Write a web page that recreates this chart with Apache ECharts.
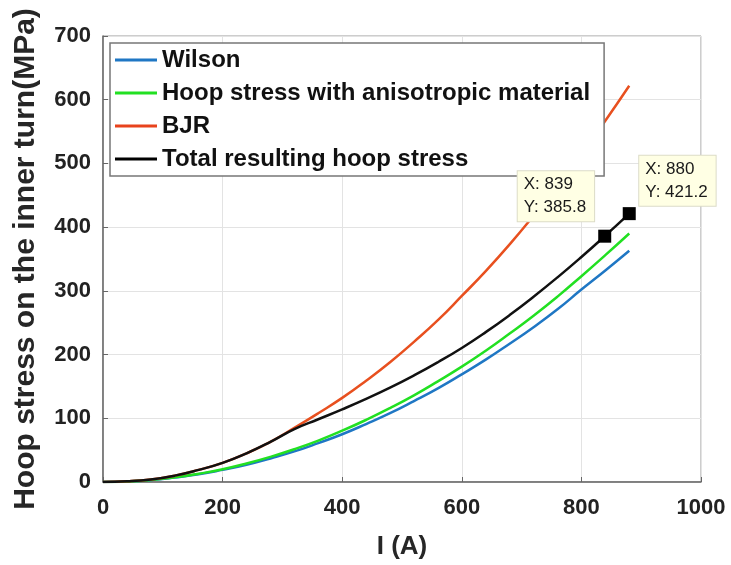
<!DOCTYPE html>
<html>
<head>
<meta charset="utf-8">
<script src="https://cdn.jsdelivr.net/npm/echarts@6/dist/echarts.min.js"></script>
<style>
html,body{margin:0;padding:0;background:#fff;}
#chart{width:731px;height:565px;}
</style>
</head>
<body>
<div id="chart"></div>
<script>
// Current (A) sample positions for the model curves
var currentA = [0,40,80,120,160,200,240,280,320,360,400,440,480,520,560,600,640,680,720,760,800,840,880];
// Hoop stress (MPa)
var wilson      = [0,0.7,3,7,12,19,27,37,48,61,75,91,108,127,147,169,192,217,243,271,302,332,363];
var anisotropic = [0,0.8,3.2,7.3,13,20,29,39.5,51.5,65,80.5,97.5,116,136,158,181,206,233,261,291,323,356,390];
var bjr         = [0,1,4,10,19,30,45,63,85,108,132,159,188,220,254,292,331,373,418,465,514,567,622];
// Total resulting hoop stress
var totalX = [0,40,80,120,160,200,240,280,320,360,400,440,480,520,560,600,640,680,720,760,800,839,880];
var total  = [0,1,4,10,19,30,45,63,83,98.5,114,130.4,148,167.2,188,210.4,235.2,262,290.8,321.2,353.2,385.8,421.2];
// Data tips
var tipX = [839, 880];
var tipY = [385.8, 421.2];
// Axis ticks
var xTicks = {min: 0, max: 1000, interval: 200};
var yTicks = {min: 0, max: 700, interval: 100};

function pairs(xs, ys){ return xs.map(function(x,i){ return [x, ys[i]]; }); }

var FONT = '"Liberation Sans", Arial, sans-serif';
var chart = echarts.init(document.getElementById('chart'), null, {renderer: 'canvas'});

var tipLabel = function(pos){
  return {
    show: true,
    position: pos,
    align: 'left',
    verticalAlign: 'bottom',
    formatter: function(p){ return 'X: ' + p.value[0] + '\nY: ' + p.value[1]; },
    fontFamily: FONT,
    fontSize: 17,
    lineHeight: 23,
    color: '#1a1a1a',
    backgroundColor: '#ffffe4',
    borderColor: '#dcdcc8',
    borderWidth: 1,
    padding: [2, 8, 2, 6]
  };
};

chart.setOption({
  animation: false,
  backgroundColor: '#ffffff',
  grid: {
    left: 103, right: 30, top: 36, bottom: 83,
    show: true, borderColor: '#9a9a9a', borderWidth: 1
  },
  legend: {
    orient: 'vertical',
    left: 110, top: 43,
    data: ['Wilson', 'Hoop stress with anisotropic material', 'BJR', 'Total resulting hoop stress'],
    icon: 'rect',
    itemWidth: 42,
    itemHeight: 3,
    itemGap: 9,
    padding: [5, 14, 5, 5],
    borderColor: '#777',
    borderWidth: 1.5,
    backgroundColor: '#ffffff',
    textStyle: {fontFamily: FONT, fontSize: 24, fontWeight: 'bold', color: '#111', lineHeight: 24}
  },
  xAxis: {
    type: 'value',
    min: xTicks.min, max: xTicks.max, interval: xTicks.interval,
    name: 'I (A)',
    nameLocation: 'middle',
    nameGap: 52,
    nameTextStyle: {fontFamily: FONT, fontSize: 26, fontWeight: 'bold', color: '#262626'},
    axisLine: {show: true, lineStyle: {color: '#666', width: 1.5}},
    axisTick: {show: true, inside: true, length: 5, lineStyle: {color: '#666'}},
    axisLabel: {fontFamily: FONT, fontSize: 22, fontWeight: 'bold', color: '#222', margin: 15,
                formatter: function(v){ return String(v); }},
    splitLine: {show: true, lineStyle: {color: '#e3e3e3', width: 1}}
  },
  yAxis: {
    type: 'value',
    min: yTicks.min, max: yTicks.max, interval: yTicks.interval,
    name: 'Hoop stress on the inner turn(MPa)',
    nameLocation: 'middle',
    nameGap: 62,
    nameTextStyle: {fontFamily: FONT, fontSize: 30, fontWeight: 'bold', color: '#262626'},
    axisLine: {show: true, lineStyle: {color: '#666', width: 1.5}},
    axisTick: {show: true, inside: true, length: 5, lineStyle: {color: '#666'}},
    axisLabel: {fontFamily: FONT, fontSize: 22, fontWeight: 'bold', color: '#222', margin: 12},
    splitLine: {show: true, lineStyle: {color: '#e3e3e3', width: 1}}
  },
  series: [
    {name: 'Wilson', type: 'line', data: pairs(currentA, wilson), showSymbol: false, symbol: 'none',
     smooth: true, color: '#1f77c4', lineStyle: {width: 2.5, color: '#1f77c4'}},
    {name: 'Hoop stress with anisotropic material', type: 'line', data: pairs(currentA, anisotropic), showSymbol: false, symbol: 'none',
     smooth: true, color: '#22e022', lineStyle: {width: 2.5, color: '#22e022'}},
    {name: 'BJR', type: 'line', data: pairs(currentA, bjr), showSymbol: false, symbol: 'none',
     smooth: true, color: '#e8431c', lineStyle: {width: 2.5, color: '#e8501f'}},
    {name: 'Total resulting hoop stress', type: 'line', data: pairs(totalX, total), showSymbol: false, symbol: 'none',
     smooth: true, color: '#000000', lineStyle: {width: 2.5, color: '#111111'}},
    {name: 'tips', type: 'scatter', symbol: 'rect', symbolSize: 13, z: 5,
     itemStyle: {color: '#000000', opacity: 1},
     data: [
       {value: [tipX[0], tipY[0]], label: tipLabel([-80.5, -8.5])},
       {value: [tipX[1], tipY[1]], label: tipLabel([16.5, -1.5])}
     ]}
  ]
});
</script>
</body>
</html>
